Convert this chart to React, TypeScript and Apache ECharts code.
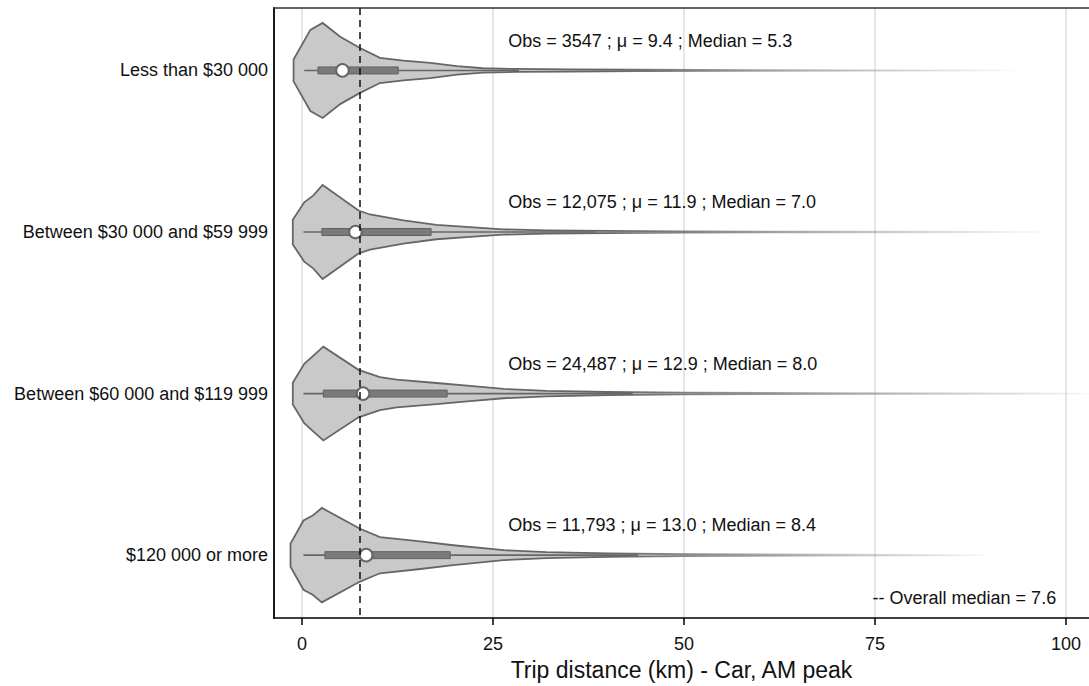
import React, { useEffect, useRef } from "react";
import * as echarts from "echarts";

const categories = [
  "Less than $30 000",
  "Between $30 000 and $59 999",
  "Between $60 000 and $119 999",
  "$120 000 or more",
];
const obsLabels = ["3547", "12,075", "24,487", "11,793"];
const means = [9.4, 11.9, 12.9, 13.0];
const medians = [5.3, 7.0, 8.0, 8.4];
const q1s = [2.1, 2.6, 2.8, 3.0];
const q3s = [12.6, 16.9, 19.0, 19.4];
const whiskerLow = [0.3, 0.2, 0.2, 0.2];
const whiskerHigh = [28.4, 38.4, 43.3, 44.0];
const overallMedian = 7.6;
const xTicks = [0, 25, 50, 75, 100];

// density outline: x positions (km) and relative density (peak = 48)
const densX = [
  [-1.1, 1.1, 2.7, 5.0, 7.6, 10.2, 13.3, 16.8, 20.3, 23.7, 28, 35, 44, 60, 80, 93],
  [-1.2, 0.3, 1.5, 2.7, 7.4, 8.9, 13.3, 17.6, 22, 26.3, 32, 40, 50, 70, 97],
  [-1.2, 0.3, 1.5, 2.8, 7.4, 10.2, 12.4, 17.6, 22, 26.4, 32, 40, 50, 70, 90, 104],
  [-1.5, 0.2, 1.4, 2.6, 7.6, 10.2, 15.5, 19.8, 26.4, 32, 40, 50, 70, 89.5],
];
const densW = [
  [11, 41, 48, 34, 22.7, 12.7, 10, 7.7, 4.3, 2.2, 1.5, 1.1, 0.7, 0.3, 0.15, 0],
  [12.5, 30, 37, 47.5, 21.7, 17.7, 11.7, 7.3, 5, 2.7, 1.6, 1.1, 0.6, 0.3, 0],
  [11, 30, 38.4, 47.4, 24, 16.7, 14, 10.7, 7.7, 4.7, 2.8, 1.6, 0.9, 0.4, 0.2, 0],
  [11.7, 35, 40, 47.7, 26.7, 18.3, 14, 10, 5, 3, 1.8, 1, 0.4, 0],
];

const FONT = "'Liberation Sans', Arial, Helvetica, sans-serif";

export default function App() {
  const ref = useRef<HTMLDivElement>(null);

  useEffect(() => {
    if (!ref.current) return;
    const chart = echarts.init(ref.current, null, { renderer: "svg" });
    const peak = 48;
    const maxHalf = 0.294; // in category units

    const renderItem = (params: any, api: any) => {
      const i = api.value(0) as number;
      const c = i + 1;
      const xs = densX[i];
      const ws = densW[i];
      const top: number[][] = [];
      const bot: number[][] = [];
      for (let k = 0; k < xs.length; k++) {
        const hw = (ws[k] / peak) * maxHalf;
        top.push(api.coord([xs[k], c - hw]));
        bot.push(api.coord([xs[k], c + hw]));
      }
      const pts = top.concat(bot.reverse());
      const center = api.coord([0, c])[1];
      const fadeX0 = api.coord([40, c])[0];
      const fadeX1 = api.coord([xs[xs.length - 1], c])[0];
      const strokeGrad = new echarts.graphic.LinearGradient(
        fadeX0, 0, fadeX1, 0,
        [
          { offset: 0, color: "#666666" },
          { offset: 1, color: "rgba(150,150,150,0.05)" },
        ],
        true
      );
      const wl = api.coord([whiskerLow[i], c])[0];
      const wh = api.coord([whiskerHigh[i], c])[0];
      const bq1 = api.coord([q1s[i], c])[0];
      const bq3 = api.coord([q3s[i], c])[0];
      const med = api.coord([medians[i], c])[0];
      const txt = api.coord([27.0, c - 0.184]);
      return {
        type: "group",
        children: [
          {
            type: "polygon",
            shape: { points: pts },
            style: { fill: "#c9c9c9", stroke: strokeGrad, lineWidth: 1.8 },
          },
          {
            type: "line",
            shape: { x1: wl, y1: center, x2: wh, y2: center },
            style: { stroke: "#666666", lineWidth: 1.6 },
          },
          {
            type: "rect",
            shape: { x: bq1, y: center - 3.5, width: bq3 - bq1, height: 7 },
            style: { fill: "#7a7a7a", stroke: "#626262", lineWidth: 1 },
          },
          {
            type: "circle",
            shape: { cx: med, cy: center, r: 6.3 },
            style: { fill: "#ffffff", stroke: "#666666", lineWidth: 2 },
          },
          {
            type: "text",
            x: txt[0],
            y: txt[1],
            style: {
              text: `Obs = ${obsLabels[i]} ; \u03bc = ${means[i].toFixed(1)} ; Median = ${medians[i].toFixed(1)}`,
              fill: "#111111",
              font: `18px ${FONT}`,
              align: "left",
              verticalAlign: "middle",
            },
          },
        ],
      };
    };

    const noteRender = (params: any, api: any) => {
      const p = api.coord([98.7, 4.266]);
      return {
        type: "text",
        x: p[0],
        y: p[1],
        style: {
          text: `-- Overall median = ${overallMedian}`,
          fill: "#111111",
          font: `18px ${FONT}`,
          align: "right",
          verticalAlign: "middle",
        },
      };
    };

    chart.setOption({
      animation: false,
      backgroundColor: "#ffffff",
      grid: { left: 274, right: 0, top: 8, bottom: 62.5, containLabel: false },
      xAxis: [
        {
          type: "value",
          min: -3.66,
          max: 103.0,
          position: "bottom",
          axisLine: { show: true, onZero: false, lineStyle: { color: "#000", width: 1.5 } },
          axisTick: {
            show: true,
            customValues: xTicks,
            length: 7,
            lineStyle: { color: "#000", width: 1.5 },
          },
          axisLabel: {
            customValues: xTicks,
            fontSize: 18,
            color: "#111",
            margin: 17,
            fontFamily: FONT,
          },
          splitLine: { show: true, lineStyle: { color: "#dedede", width: 1.5 } },
          name: "Trip distance (km) - Car, AM peak",
          nameLocation: "middle",
          nameGap: 37,
          nameTextStyle: { fontSize: 23, color: "#111", fontFamily: FONT },
        },
        {
          type: "value",
          min: -3.66,
          max: 103.0,
          position: "top",
          axisLine: { show: true, onZero: false, lineStyle: { color: "#333", width: 1.5 } },
          axisTick: { show: false },
          axisLabel: { show: false },
          splitLine: { show: false },
        },
      ],
      yAxis: {
        type: "value",
        inverse: true,
        min: 0.6135,
        max: 4.3896,
        position: "left",
        axisLine: { show: true, onZero: false, lineStyle: { color: "#000", width: 1.8 } },
        axisTick: { show: false },
        splitLine: { show: false },
        axisLabel: {
          customValues: [1, 2, 3, 4],
          formatter: (v: number) => categories[Math.round(v) - 1] ?? "",
          fontSize: 18,
          color: "#111",
          margin: 6,
          fontFamily: FONT,
        },
      },
      series: [
        {
          type: "custom",
          renderItem,
          data: categories.map((_, i) => [i]),
          encode: { x: -1, y: -1 },
          clip: true,
          z: 2,
          markLine: {
            silent: true,
            symbol: "none",
            label: { show: false },
            lineStyle: { color: "#111", type: [7, 5], width: 1.5 },
            data: [{ xAxis: overallMedian }],
          },
        },
        {
          type: "custom",
          renderItem: noteRender,
          data: [[0]],
          encode: { x: -1, y: -1 },
          z: 3,
        },
      ],
    });
    return () => chart.dispose();
  }, []);

  return (
    <div
      ref={ref}
      style={{ position: "fixed", left: 0, top: 0, width: 1089, height: 686 }}
    />
  );
}
